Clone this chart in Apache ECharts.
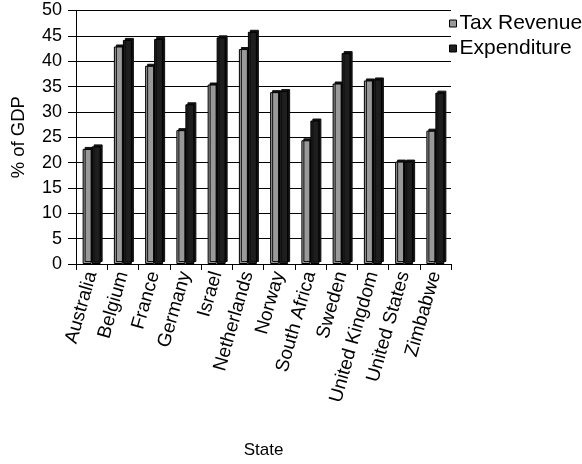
<!DOCTYPE html>
<html>
<head>
<meta charset="utf-8">
<script src="https://cdn.jsdelivr.net/npm/echarts@6/dist/echarts.min.js"></script>
<style>
  html, body { margin: 0; padding: 0; background: #fff; }
  #chart { width: 582px; height: 464px; }
</style>
</head>
<body>
<div id="chart"></div>
<script>
// Government tax revenue and expenditure as a share of GDP
const states = ['Australia', 'Belgium', 'France', 'Germany', 'Israel', 'Netherlands',
  'Norway', 'South Africa', 'Sweden', 'United Kingdom', 'United States', 'Zimbabwe'];
const taxRevenue = [22.7, 42.9, 39.1, 26.4, 35.4, 42.4, 33.9, 24.4, 35.6, 36.2, 20.2, 26.3];
const expenditure = [23.2, 44.2, 44.4, 31.5, 44.7, 45.8, 34.1, 28.3, 41.6, 36.4, 20.2, 33.8];
const yTicks = [0, 5, 10, 15, 20, 25, 30, 35, 40, 45, 50];

const font = 'Liberation Sans, Arial, sans-serif';

const chart = echarts.init(document.getElementById('chart'), null, { renderer: 'canvas' });

// Bars get a flat dark offset shadow so they read as solid blocks
const blockStyle = (fill) => ({
  color: fill,
  borderColor: '#000',
  borderWidth: 1,
  shadowColor: '#111',
  shadowOffsetX: 2,
  shadowOffsetY: -2,
  shadowBlur: 0
});

const flatIcon = (fill) => ({
  color: fill, borderColor: '#000', borderWidth: 1,
  shadowBlur: 0, shadowOffsetX: 0, shadowOffsetY: 0
});

chart.setOption({
  animation: false,
  backgroundColor: '#fff',
  textStyle: { fontFamily: font, color: '#000' },
  grid: { left: 76, right: 131, top: 10.5, bottom: 189, containLabel: false },
  legend: {
    orient: 'vertical',
    left: 444,
    top: 8,
    itemWidth: 7,
    itemHeight: 7,
    itemGap: 4,
    icon: 'rect',
    textStyle: { fontFamily: font, fontSize: 21, color: '#000', padding: [0, 0, 0, -2] },
    data: [
      { name: 'Tax Revenue', itemStyle: flatIcon('#999') },
      { name: 'Expenditure', itemStyle: flatIcon('#1e1e1e') }
    ]
  },
  xAxis: {
    type: 'category',
    data: states,
    name: 'State',
    nameLocation: 'middle',
    nameGap: 178,
    nameTextStyle: { fontFamily: font, fontSize: 17, color: '#000' },
    axisLine: { show: true, lineStyle: { color: '#000', width: 1 } },
    axisTick: { show: true, alignWithLabel: false, length: 6, lineStyle: { color: '#000' } },
    axisLabel: { rotate: 74, fontFamily: font, fontSize: 19, color: '#000', margin: 8, interval: 0 },
    splitLine: { show: false }
  },
  yAxis: {
    type: 'value',
    min: 0,
    max: 50,
    interval: 5,
    name: '% of GDP',
    nameLocation: 'middle',
    nameGap: 48,
    nameRotate: 90,
    nameTextStyle: { fontFamily: font, fontSize: 18.5, color: '#000' },
    axisLine: { show: true, lineStyle: { color: '#000', width: 1 } },
    axisTick: { show: true, length: 8, lineStyle: { color: '#000' } },
    axisLabel: {
      fontFamily: font, fontSize: 18, color: '#000', margin: 14,
      formatter: (v) => (yTicks.includes(v) ? String(v) : '')
    },
    splitLine: { show: true, lineStyle: { color: '#000', width: 1 } }
  },
  series: [
    {
      name: 'Tax Revenue',
      type: 'bar',
      data: taxRevenue,
      barWidth: 9,
      barGap: '0%',
      itemStyle: blockStyle('#999')
    },
    {
      name: 'Expenditure',
      type: 'bar',
      data: expenditure,
      barWidth: 9,
      barGap: '0%',
      itemStyle: blockStyle('#1e1e1e')
    }
  ]
});
</script>
</body>
</html>
